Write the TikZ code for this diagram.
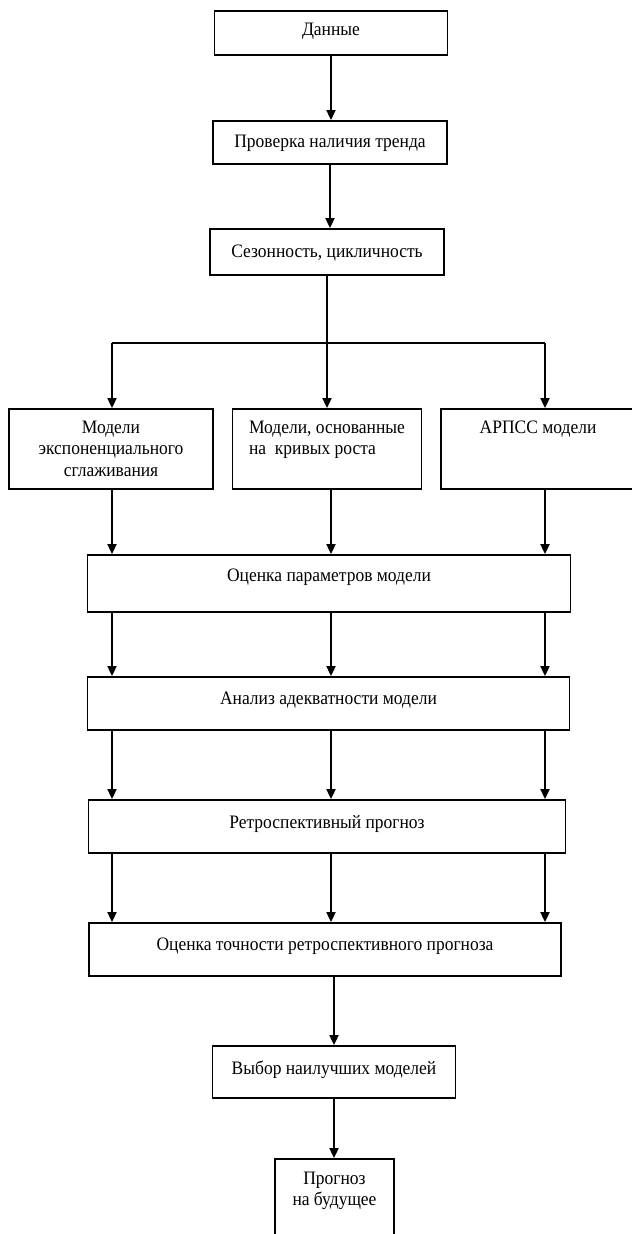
\documentclass[tikz,border=0pt]{standalone}
\usepackage{fontspec}
\setmainfont{Liberation Serif}[FakeStretch=0.92]
\usetikzlibrary{arrows.meta, positioning}

\tikzset{
  box/.style={draw, line width=0.9pt, inner sep=0pt, text height=7pt, text depth=5pt,
    font=\fontsize{9.5}{10.5}\selectfont},
  arr/.style={line width=0.9pt, -{Triangle[length=5pt, width=4.5pt]}},
}

\begin{document}
\begin{tikzpicture}[x=0.5pt, y=-0.5pt]
    \useasboundingbox (0,0) rectangle (631,1234);

    \node[box, minimum width=116.5pt, minimum height=22pt, text depth=4pt] (dannye) at (331,33) {Данные};
    \node[box, minimum width=117pt, minimum height=21.5pt, text depth=2pt] (trend) at (330,142.5) {Проверка наличия тренда};
    \node[box, minimum width=116.75pt, minimum height=23pt, text depth=1pt] (sezon) at (327,252) {Сезонность, цикличность};

    \node[box, minimum width=102pt, minimum height=40pt, align=center, text height=28pt, text depth=1pt] (expo) at (111,449) {Модели\\экспоненциального\\сглаживания};
    \node[box, minimum width=94.5pt, minimum height=40pt, align=left, text height=17pt, text depth=11pt] (krivye) at (327,449) {Модели, основанные\\на\ \ кривых роста};
    \node[box, minimum width=97pt, minimum height=40pt, text depth=22pt] (arpss) at (538,449) {АРПСС модели};

    \node[box, minimum width=241.5pt, minimum height=28.5pt, text depth=9pt] (param) at (329,583.5) {Оценка параметров модели};
    \node[box, minimum width=241pt, minimum height=26.5pt, text depth=6pt] (adekv) at (328.5,703.5) {Анализ адекватности модели};
    \node[box, minimum width=238.5pt, minimum height=26.5pt] (retro) at (327,826.5) {Ретроспективный прогноз};
    \node[box, minimum width=236.25pt, minimum height=26.5pt, text depth=6pt] (tochn) at (325,949.5) {Оценка точности ретроспективного прогноза};
    \node[box, minimum width=121.5pt, minimum height=26pt] (vybor) at (334,1072) {Выбор наилучших моделей};
    \node[box, minimum width=59.5pt, minimum height=50pt, align=center, text height=17pt, text depth=20.5pt] (prognoz) at (334.5,1209) {Прогноз\\на будущее};

    % columns of the arrows
    \coordinate (colL) at (112,0);
    \coordinate (colM) at (331,0);
    \coordinate (colR) at (545,0);
    \coordinate (fork) at (327,343);

    \draw[arr] (dannye) -- (dannye |- trend.north);
    \draw[arr] (trend) -- (trend |- sezon.north);
    \draw[arr] (sezon) -- (krivye);
    \draw[line width=0.9pt] (fork -| colL) -- (fork -| colR);
    \draw[arr] (fork -| colL) -- (expo.north -| colL);
    \draw[arr] (fork -| colR) -- (arpss.north -| colR);

    \foreach \a/\c in {expo/colL, krivye/colM, arpss/colR}
        \draw[arr] (\a.south -| \c) -- (param.north -| \c);
    \foreach \c in {colL, colM, colR} {
        \draw[arr] (param.south -| \c) -- (adekv.north -| \c);
        \draw[arr] (adekv.south -| \c) -- (retro.north -| \c);
        \draw[arr] (retro.south -| \c) -- (tochn.north -| \c);
    }

    \draw[arr] (tochn.south -| vybor.north) -- (vybor.north);
    \draw[arr] (vybor) -- (vybor |- prognoz.north);
\end{tikzpicture}
\end{document}
